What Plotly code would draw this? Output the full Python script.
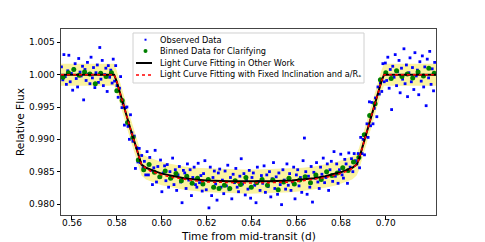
import plotly.graph_objects as go

# ---------------- data ----------------
obs_time = [
    0.5553, 0.5559, 0.5564, 0.5570, 0.5575, 0.5581, 0.5586, 0.5592, 0.5597, 0.5603,
    0.5608, 0.5614, 0.5619, 0.5625, 0.5630, 0.5636, 0.5641, 0.5647, 0.5652, 0.5658,
    0.5663, 0.5669, 0.5674, 0.5680, 0.5685, 0.5691, 0.5696, 0.5702, 0.5707, 0.5713,
    0.5718, 0.5724, 0.5729, 0.5735, 0.5740, 0.5746, 0.5751, 0.5757, 0.5762, 0.5768,
    0.5773, 0.5779, 0.5784,
    0.5790, 0.5795, 0.5801, 0.5806, 0.5812, 0.5817, 0.5823, 0.5828, 0.5834, 0.5839,
    0.5845, 0.5850, 0.5856, 0.5861, 0.5867, 0.5872, 0.5878, 0.5883, 0.5889, 0.5894,
    0.5900, 0.5905,
    0.5911, 0.5917, 0.5923, 0.5929, 0.5935, 0.5941, 0.5947, 0.5953, 0.5959, 0.5965,
    0.5971, 0.5977, 0.5983, 0.5989, 0.5995, 0.6001, 0.6007, 0.6013, 0.6019, 0.6025,
    0.6031, 0.6037, 0.6043, 0.6049, 0.6055, 0.6061, 0.6067, 0.6073, 0.6079, 0.6085,
    0.6091, 0.6097, 0.6103, 0.6109, 0.6115, 0.6121, 0.6127, 0.6133, 0.6139, 0.6145,
    0.6151, 0.6157, 0.6163, 0.6169, 0.6175, 0.6181, 0.6187, 0.6193, 0.6199, 0.6205,
    0.6211, 0.6217, 0.6223, 0.6229, 0.6235, 0.6241, 0.6247, 0.6253, 0.6259, 0.6265,
    0.6271, 0.6277, 0.6283, 0.6289, 0.6295, 0.6301, 0.6307, 0.6313, 0.6319, 0.6325,
    0.6331, 0.6337, 0.6343, 0.6349, 0.6355, 0.6361, 0.6367, 0.6373, 0.6379, 0.6385,
    0.6391, 0.6397, 0.6403, 0.6409, 0.6415, 0.6421, 0.6427, 0.6433, 0.6439, 0.6445,
    0.6451, 0.6457, 0.6463, 0.6469, 0.6475, 0.6481, 0.6487, 0.6493, 0.6499, 0.6505,
    0.6511, 0.6517, 0.6523, 0.6529, 0.6535, 0.6541, 0.6547, 0.6553, 0.6559, 0.6565,
    0.6571, 0.6577, 0.6583, 0.6589, 0.6595, 0.6601, 0.6607, 0.6613, 0.6619, 0.6625,
    0.6631, 0.6637, 0.6643, 0.6649, 0.6655, 0.6661, 0.6667, 0.6673, 0.6679, 0.6685,
    0.6691, 0.6697, 0.6703, 0.6709, 0.6715, 0.6721, 0.6727, 0.6733, 0.6739, 0.6745,
    0.6751, 0.6757, 0.6763, 0.6769, 0.6775, 0.6781, 0.6787, 0.6793, 0.6799, 0.6805,
    0.6811, 0.6817, 0.6823, 0.6829, 0.6835, 0.6841, 0.6847, 0.6853, 0.6859, 0.6865,
    0.6871,
    0.6877, 0.6883, 0.6888, 0.6894, 0.6899, 0.6905, 0.6910, 0.6916, 0.6921, 0.6927,
    0.6932, 0.6938, 0.6943, 0.6949, 0.6954, 0.6960, 0.6965, 0.6971, 0.6976, 0.6982,
    0.6987, 0.6993,
    0.6998, 0.7004, 0.7009, 0.7015, 0.7020, 0.7026, 0.7031, 0.7037, 0.7042, 0.7048,
    0.7053, 0.7059, 0.7064, 0.7070, 0.7075, 0.7081, 0.7086, 0.7092, 0.7097, 0.7103,
    0.7108, 0.7114, 0.7119, 0.7125, 0.7130, 0.7136, 0.7141, 0.7147, 0.7152, 0.7158,
    0.7163, 0.7169, 0.7174, 0.7180, 0.7185, 0.7191, 0.7196, 0.7202, 0.7207, 0.7213,
    0.7218,
]
obs_flux = [
    1.0012, 0.9992, 1.0031, 0.9997, 0.9985, 1.0006, 1.0030, 0.9989, 1.0002, 0.9976,
    1.0009, 1.0017, 0.9994, 0.9981, 1.0025, 1.0004, 0.9998, 1.0013, 0.9961, 1.0008,
    0.9991, 1.0019, 1.0001, 0.9986, 1.0027, 0.9995, 1.0011, 0.9980, 1.0003, 1.0015,
    0.9988, 1.0042, 0.9993, 1.0022, 0.9983, 1.0000, 1.0010, 0.9974, 1.0014, 0.9996,
    1.0007, 0.9987, 1.0024,
    0.9990, 1.0014, 0.9983, 0.9965, 0.9979, 0.9997, 0.9949, 0.9955, 0.9922, 0.9949,
    0.9950, 0.9920, 0.9900, 0.9938, 0.9910, 0.9897, 0.9905, 0.9855, 0.9887, 0.9865,
    0.9886, 0.9864,
    0.9875, 0.9856, 0.9866, 0.9845, 0.9881, 0.9845, 0.9872, 0.9852, 0.9830, 0.9856,
    0.9883, 0.9834, 0.9858, 0.9841, 0.9868, 0.9819, 0.9848, 0.9859, 0.9836, 0.9861,
    0.9826, 0.9850, 0.9840, 0.9871, 0.9830, 0.9853, 0.9821, 0.9845, 0.9858, 0.9834,
    0.9802, 0.9852, 0.9848, 0.9824, 0.9862, 0.9837, 0.9853, 0.9813, 0.9841, 0.9857,
    0.9830, 0.9826, 0.9863, 0.9833, 0.9844, 0.9820, 0.9847, 0.9867, 0.9822, 0.9837,
    0.9794, 0.9857, 0.9813, 0.9841, 0.9851, 0.9831, 0.9806, 0.9848, 0.9854, 0.9826,
    0.9837, 0.9816, 0.9851, 0.9828, 0.9860, 0.9822, 0.9841, 0.9808, 0.9846, 0.9833,
    0.9855, 0.9826, 0.9819, 0.9843, 0.9870, 0.9831, 0.9847, 0.9814, 0.9838, 0.9823,
    0.9852, 0.9809, 0.9841, 0.9848, 0.9829, 0.9802, 0.9857, 0.9835, 0.9821, 0.9844,
    0.9832, 0.9859, 0.9818, 0.9845, 0.9827, 0.9850, 0.9811, 0.9839, 0.9864, 0.9824,
    0.9842, 0.9815, 0.9848, 0.9830, 0.9799, 0.9853, 0.9837, 0.9823, 0.9862, 0.9829,
    0.9847, 0.9821, 0.9834, 0.9857, 0.9808, 0.9845, 0.9853, 0.9828, 0.9841, 0.9818,
    0.9867, 0.9902, 0.9850, 0.9815, 0.9843, 0.9826, 0.9858, 0.9803, 0.9849, 0.9840,
    0.9864, 0.9834, 0.9824, 0.9857, 0.9846, 0.9871, 0.9833, 0.9841, 0.9862, 0.9821,
    0.9853, 0.9866, 0.9835, 0.9881, 0.9843, 0.9862, 0.9832, 0.9853, 0.9877, 0.9845,
    0.9840, 0.9869, 0.9862, 0.9832, 0.9879, 0.9857, 0.9870, 0.9850, 0.9878, 0.9867,
    0.9862,
    0.9878, 0.9856, 0.9903, 0.9878, 0.9900, 0.9876, 0.9905, 0.9924, 0.9903, 0.9958,
    0.9921, 0.9957, 0.9924, 0.9948, 0.9964, 0.9935, 0.9981, 0.9970, 0.9987, 0.9974,
    1.0017, 0.9989,
    1.0018, 0.9991, 1.0027, 0.9979, 1.0008, 0.9946, 1.0013, 0.9996, 1.0031, 0.9983,
    1.0005, 1.0022, 0.9972, 1.0010, 0.9993, 1.0040, 0.9986, 1.0015, 0.9966, 1.0003,
    1.0026, 0.9989, 1.0011, 0.9977, 1.0034, 0.9998, 1.0007, 0.9969, 1.0020, 0.9990,
    1.0029, 0.9981, 1.0012, 0.9952, 1.0024, 0.9995, 1.0036, 0.9985, 1.0009, 0.9975,
    1.0019,
]

bin_time = [
    0.5560, 0.5584, 0.5608, 0.5632, 0.5656, 0.5680, 0.5704, 0.5728, 0.5752, 0.5776,
    0.5800, 0.5824, 0.5848, 0.5872, 0.5896, 0.5920, 0.5944, 0.5968, 0.5992, 0.6016,
    0.6040, 0.6064, 0.6088, 0.6112, 0.6136, 0.6160, 0.6184, 0.6208, 0.6232, 0.6256,
    0.6280, 0.6304, 0.6328, 0.6352, 0.6376, 0.6400, 0.6424, 0.6448, 0.6472, 0.6496,
    0.6520, 0.6544, 0.6568, 0.6592, 0.6616, 0.6640, 0.6664, 0.6688, 0.6712, 0.6736,
    0.6760, 0.6784, 0.6808, 0.6832, 0.6856, 0.6880, 0.6904, 0.6928, 0.6952, 0.6976,
    0.7000, 0.7024, 0.7048, 0.7072, 0.7096, 0.7120, 0.7144, 0.7168, 0.7192, 0.7216,
]
bin_flux = [
    0.9996, 1.0003, 1.0008, 0.9999, 1.0004, 1.0001, 0.9986, 1.0002, 0.9997, 1.0003,
    0.9975, 0.9960, 0.9926, 0.9903, 0.9868, 0.9853, 0.9861, 0.9849, 0.9842, 0.9851,
    0.9840, 0.9847, 0.9836, 0.9843, 0.9832, 0.9840, 0.9831, 0.9838, 0.9826, 0.9824,
    0.9829, 0.9824, 0.9836, 0.9830, 0.9841, 0.9826, 0.9833, 0.9838, 0.9829, 0.9837,
    0.9822, 0.9834, 0.9840, 0.9831, 0.9837, 0.9842, 0.9833, 0.9845, 0.9838, 0.9850,
    0.9844, 0.9848, 0.9856, 0.9852, 0.9865, 0.9872, 0.9907, 0.9937, 0.9955, 0.9992,
    1.0003, 0.9994, 1.0006, 0.9997, 1.0001, 0.9995, 1.0004, 0.9998, 1.0010, 1.0002,
]

model_time = [
    0.5551, 0.5788, 0.5800, 0.5815, 0.5830, 0.5845, 0.5860, 0.5875, 0.5890, 0.5900,
    0.5910, 0.5930, 0.5950, 0.5975, 0.6000, 0.6050, 0.6100, 0.6150, 0.6200, 0.6300,
    0.6390, 0.6480, 0.6580, 0.6630, 0.6680, 0.6730, 0.6780, 0.6805, 0.6830, 0.6850,
    0.6870, 0.6880, 0.6890, 0.6905, 0.6920, 0.6935, 0.6950, 0.6965, 0.6980, 0.6992,
    0.7225,
]
model_other = [
    1.0000, 1.0000, 0.9989, 0.9972, 0.9954, 0.9935, 0.9917, 0.9899, 0.9881, 0.9869,
    0.9861, 0.9856, 0.9853, 0.9850, 0.9847, 0.9843, 0.9840, 0.9838, 0.98365, 0.9835,
    0.98345, 0.9835, 0.98365, 0.9838, 0.9840, 0.9843, 0.9847, 0.9850, 0.9853, 0.9856,
    0.9861, 0.9869, 0.9881, 0.9899, 0.9917, 0.9935, 0.9954, 0.9972, 0.9989, 1.0000,
    1.0000,
]
model_fixed = [
    1.0000, 1.0000, 0.9989, 0.9972, 0.9954, 0.9935, 0.9917, 0.9899, 0.9881, 0.9869,
    0.9861, 0.9855, 0.9851, 0.9848, 0.9845, 0.9841, 0.9838, 0.9836, 0.9834, 0.9833,
    0.98325, 0.9833, 0.9834, 0.9836, 0.9838, 0.9841, 0.9845, 0.9848, 0.9851, 0.9855,
    0.9861, 0.9869, 0.9881, 0.9899, 0.9917, 0.9935, 0.9954, 0.9972, 0.9989, 1.0000,
    1.0000,
]
band_upper = [
    1.0017, 1.0017, 1.0006, 0.9989, 0.9971, 0.9952, 0.9934, 0.9916, 0.9898, 0.9886,
    0.9878, 0.9874, 0.9871, 0.9868, 0.9865, 0.9861, 0.9858, 0.9856, 0.9855, 0.9854,
    0.9853, 0.9854, 0.9855, 0.9856, 0.9858, 0.9861, 0.9865, 0.9868, 0.9871, 0.9874,
    0.9878, 0.9886, 0.9898, 0.9916, 0.9934, 0.9952, 0.9971, 0.9989, 1.0006, 1.0017,
    1.0017,
]
band_lower = [
    0.9983, 0.9983, 0.9972, 0.9955, 0.9937, 0.9918, 0.9900, 0.9882, 0.9864, 0.9852,
    0.9844, 0.9838, 0.9835, 0.9832, 0.9829, 0.9825, 0.9822, 0.9820, 0.9818, 0.9817,
    0.9816, 0.9817, 0.9818, 0.9820, 0.9822, 0.9825, 0.9829, 0.9832, 0.9835, 0.9838,
    0.9844, 0.9852, 0.9864, 0.9882, 0.9900, 0.9918, 0.9937, 0.9955, 0.9972, 0.9983,
    0.9983,
]

x_ticks = [0.56, 0.58, 0.60, 0.62, 0.64, 0.66, 0.68, 0.70]
x_tick_text = ["0.56", "0.58", "0.60", "0.62", "0.64", "0.66", "0.68", "0.70"]
y_ticks = [0.980, 0.985, 0.990, 0.995, 1.000, 1.005]
y_tick_text = ["0.980", "0.985", "0.990", "0.995", "1.000", "1.005"]

legend_labels = [
    "Observed Data",
    "Binned Data for Clarifying",
    "Light Curve Fitting in Other Work",
    "Light Curve Fitting with Fixed Inclination and a/R<sub>*</sub>",
]
x_title = "Time from mid-transit (d)"
y_title = "Relative Flux"

# ---------------- figure ----------------
FONT = "DejaVu Sans"
BLUE, GREEN, YELLOW = "#0000ff", "#008000", "#fbf3a0"
fig = go.Figure()

fig.add_trace(go.Scatter(x=model_time, y=band_upper, mode="lines",
                         line=dict(width=0, color=YELLOW), showlegend=False,
                         hoverinfo="skip"))
fig.add_trace(go.Scatter(x=model_time, y=band_lower, mode="lines",
                         line=dict(width=0, color=YELLOW), fill="tonexty",
                         fillcolor=YELLOW, showlegend=False, hoverinfo="skip"))
fig.add_trace(go.Scatter(x=obs_time, y=obs_flux, mode="markers",
                         name=legend_labels[0], showlegend=False,
                         marker=dict(color=BLUE, size=2.8, symbol="square",
                                     line=dict(width=0))))
fig.add_trace(go.Scatter(x=bin_time, y=bin_flux, mode="markers",
                         name=legend_labels[1], showlegend=False,
                         marker=dict(color=GREEN, size=5, line=dict(width=0))))
fig.add_trace(go.Scatter(x=model_time, y=model_other, mode="lines",
                         name=legend_labels[2], showlegend=False,
                         line=dict(color="black", width=2)))
fig.add_trace(go.Scatter(x=model_time, y=model_fixed, mode="lines",
                         name=legend_labels[3], showlegend=False,
                         line=dict(color="red", width=1.5, dash="dot")))

# ----- legend box (matplotlib-style, drawn in plot-area coordinates) -----
shapes = [
    dict(type="rect", xref="paper", yref="paper", x0=0.192, x1=0.808,
         y0=0.7097, y1=0.9785, fillcolor="white", line=dict(color="#d0d0d0", width=1)),
    dict(type="rect", xref="paper", yref="paper", x0=0.2227, x1=0.2280,
         y0=0.9371, y1=0.9478, fillcolor=BLUE, line=dict(width=0)),
    dict(type="circle", xref="paper", yref="paper", x0=0.2200, x1=0.2307,
         y0=0.8710, y1=0.8925, fillcolor=GREEN, line=dict(width=0)),
    dict(type="line", xref="paper", yref="paper", x0=0.200, x1=0.2427,
         y0=0.8172, y1=0.8172, line=dict(color="black", width=2)),
    dict(type="line", xref="paper", yref="paper", x0=0.200, x1=0.2427,
         y0=0.7527, y1=0.7527, line=dict(color="red", width=1.5, dash="dot")),
]
row_y = [0.9425, 0.8817, 0.8172, 0.7527]
annotations = [
    dict(text=lab, x=0.2587, y=yy, xref="paper", yref="paper", xanchor="left",
         yanchor="middle", showarrow=False, font=dict(size=8.2, family=FONT))
    for lab, yy in zip(legend_labels, row_y)
]
# axis titles
annotations.append(dict(text=x_title, x=0.5, y=-0.1129, xref="paper", yref="paper",
                        xanchor="center", yanchor="middle", showarrow=False,
                        font=dict(size=10.6, family=FONT)))
annotations.append(dict(text=y_title, x=-0.1093, y=0.5, xref="paper", yref="paper",
                        xanchor="center", yanchor="middle", showarrow=False,
                        textangle=-90, font=dict(size=10.6, family=FONT)))

# The page adds an 8px body margin, so the figure is sized/offset to compensate.
fig.update_layout(
    width=477, height=234,
    margin=dict(l=53, r=49, t=21, b=27),
    paper_bgcolor="white", plot_bgcolor="white",
    font=dict(family=FONT, size=9, color="black"),
    showlegend=False,
    shapes=shapes, annotations=annotations,
)
fig.update_xaxes(range=[0.5551, 0.7224], tickvals=x_ticks, ticktext=x_tick_text,
                 ticks="outside", ticklen=3.5, tickcolor="black",
                 ticklabelstandoff=-4,
                 showline=True, mirror=True, linecolor="#444444", linewidth=1,
                 showgrid=False, zeroline=False, automargin=False,
                 tickfont=dict(size=9))
fig.update_yaxes(range=[0.97830, 1.00706], tickvals=y_ticks, ticktext=y_tick_text,
                 ticks="outside", ticklen=3.5, tickcolor="black",
                 showline=True, mirror=True, linecolor="#444444", linewidth=1,
                 showgrid=False, zeroline=False, automargin=False,
                 tickfont=dict(size=9))

fig.write_html("out.html")
